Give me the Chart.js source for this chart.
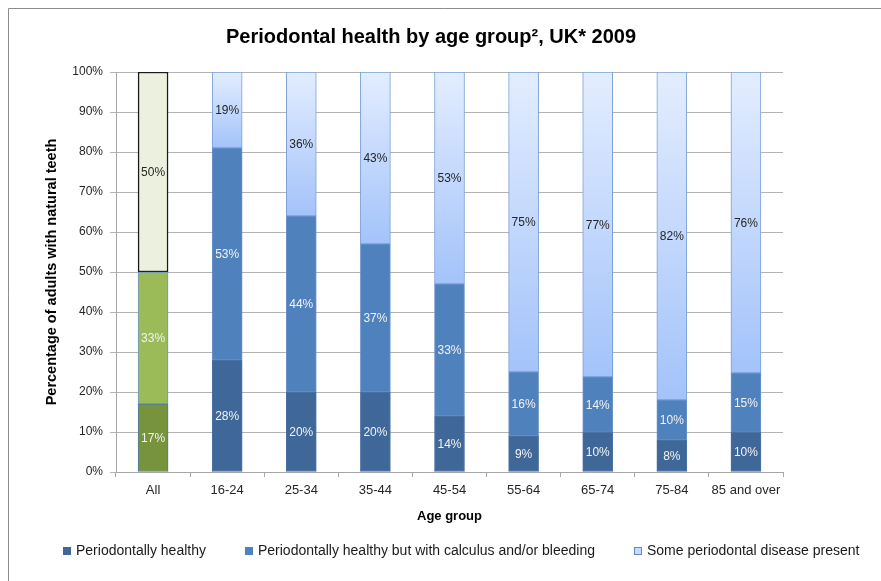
<!DOCTYPE html>
<html>
<head>
<meta charset="utf-8">
<script src="https://cdn.jsdelivr.net/npm/chart.js@4.4.0/dist/chart.umd.min.js"></script>
<style>
html,body{margin:0;padding:0;background:#fff;}
#wrap{position:relative;width:881px;height:581px;}
</style>
</head>
<body>
<div id="wrap"><canvas id="c" width="881" height="581"></canvas></div>
<script>
const categories = ['All','16-24','25-34','35-44','45-54','55-64','65-74','75-84','85 and over'];
const healthy = [17,28,20,20,14,9,10,8,10];
const calculus = [33,53,44,37,33,16,14,10,15];
const disease = [50,19,36,43,53,75,77,82,76];
const seriesNames = ['Periodontally healthy','Periodontally healthy but with calculus and/or bleeding','Some periodontal disease present'];
const yTicks = [0,10,20,30,40,50,60,70,80,90,100];

const raw = [healthy, calculus, disease];
const totals = categories.map((_, i) => raw.reduce((s, a) => s + a[i], 0));
const norm = raw.map(a => a.map((v, i) => v / totals[i] * 100));

const FONT = "'Liberation Sans', Arial, sans-serif";

function topGradient(ctx, light, dark) {
  const chart = ctx.chart;
  const ys = chart.scales.y;
  if (!chart.chartArea || !ys) return light;
  const i = ctx.dataIndex, d = ctx.datasetIndex;
  let base = 0;
  for (let k = 0; k < d; k++) base += norm[k][i];
  const top = base + norm[d][i];
  const yt = ys.getPixelForValue(top), yb = ys.getPixelForValue(base);
  const g = chart.ctx.createLinearGradient(0, yt, 0, yb);
  g.addColorStop(0, light);
  g.addColorStop(1, dark);
  return g;
}

const datasets = [
  {
    label: seriesNames[0],
    data: norm[0],
    backgroundColor: categories.map((c, i) => i === 0 ? '#77933C' : '#3F6898'),
    borderColor: categories.map((c, i) => i === 0 ? '#4F79AE' : '#4A73A6'),
    borderWidth: 1,
    legendColor: '#3F6898', legendBorder: '#3F6898',
    labelColor: '#F2F2F2'
  },
  {
    label: seriesNames[1],
    data: norm[1],
    backgroundColor: categories.map((c, i) => i === 0 ? '#9BBB59' : '#4F81BD'),
    borderColor: categories.map((c, i) => i === 0 ? '#6E95C8' : '#6A93C9'),
    borderWidth: 1,
    legendColor: '#4F81BD', legendBorder: '#4F81BD',
    labelColor: '#F2F2F2'
  },
  {
    label: seriesNames[2],
    data: norm[2],
    backgroundColor: ctx => ctx.dataIndex === 0 ? '#EBF1DE' : topGradient(ctx, '#E3EDFF', '#A3C3FA'),
    borderColor: categories.map((c, i) => i === 0 ? '#1A1A1A' : '#79A0D6'),
    borderWidth: categories.map((c, i) => i === 0 ? 1.5 : 1),
    legendColor: '#C6DAFC', legendBorder: '#5B8AC8',
    labelColor: '#262626'
  }
];
datasets.forEach(d => { d.borderSkipped = false; d.barThickness = 30; });

const framePlugin = {
  id: 'frame',
  beforeDraw(chart) {
    const c = chart.ctx;
    c.save();
    c.fillStyle = '#fff';
    c.fillRect(0, 0, chart.width, chart.height);
    c.strokeStyle = '#8C8C8C';
    c.lineWidth = 1;
    c.beginPath();
    c.moveTo(8.5, chart.height);
    c.lineTo(8.5, 8.5);
    c.lineTo(chart.width, 8.5);
    c.stroke();
    c.restore();
  }
};

const labelPlugin = {
  id: 'segLabels',
  afterDatasetsDraw(chart) {
    const c = chart.ctx;
    c.save();
    c.font = '12px ' + FONT;
    c.textAlign = 'center';
    c.textBaseline = 'middle';
    chart.data.datasets.forEach((ds, d) => {
      const meta = chart.getDatasetMeta(d);
      meta.data.forEach((el, i) => {
        const p = el.getProps(['x', 'y', 'base'], true);
        c.fillStyle = ds.labelColor;
        c.fillText(raw[d][i] + '%', p.x, (p.y + p.base) / 2 + 1);
      });
    });
    c.restore();
  }
};

const legendPlugin = {
  id: 'customLegend',
  afterDraw(chart) {
    const c = chart.ctx;
    c.save();
    c.font = '14px ' + FONT;
    c.textBaseline = 'middle';
    c.textAlign = 'left';
    let x = 63;
    const yc = 551;
    chart.data.datasets.forEach(ds => {
      c.fillStyle = ds.legendColor;
      c.fillRect(x, yc - 4, 8, 8);
      c.strokeStyle = ds.legendBorder;
      c.lineWidth = 1;
      c.strokeRect(x + 0.5, yc - 3.5, 7, 7);
      c.fillStyle = '#1A1A1A';
      c.fillText(ds.label, x + 13, yc);
      x += 13 + c.measureText(ds.label).width + 39;
    });
    c.restore();
  }
};

new Chart(document.getElementById('c'), {
  type: 'bar',
  data: { labels: categories, datasets },
  options: {
    responsive: false,
    animation: false,
    layout: { padding: { left: 0, right: 19, top: 0, bottom: 57 } },
    plugins: {
      legend: { display: false },
      tooltip: { enabled: false },
      title: {
        display: true,
        text: 'Periodontal health by age group\u00B2, UK* 2009',
        color: '#000',
        font: { family: FONT, size: 20, weight: 'bold' },
        padding: { top: 25, bottom: 23 }
      }
    },
    scales: {
      x: {
        stacked: true,
        offset: true,
        grid: { display: true, drawOnChartArea: false, drawTicks: true, tickLength: 5, offset: true, color: '#A6A6A6' },
        border: { display: true, color: '#A6A6A6' },
        ticks: { color: '#262626', font: { family: FONT, size: 13 }, padding: 6, maxRotation: 0, autoSkip: false },
        title: { display: true, text: 'Age group', color: '#000', font: { family: FONT, size: 13, weight: 'bold' }, padding: { top: 0, bottom: 0 } },
        afterFit: s => { s.height = 52; }
      },
      y: {
        stacked: true,
        min: 0, max: 100,
        afterBuildTicks: s => { s.ticks = yTicks.map(v => ({ value: v })); },
        grid: { color: '#B3B3B3', tickLength: 6, drawTicks: true },
        border: { display: true, color: '#A6A6A6' },
        ticks: { color: '#262626', font: { family: FONT, size: 12 }, padding: 7, callback: v => v + '%' },
        title: { display: true, text: 'Percentage of adults with natural teeth', color: '#000', font: { family: FONT, size: 14.5, weight: 'bold' }, padding: { top: 43, bottom: 0 } },
        afterFit: s => { s.width = 116; }
      },
      y2: {
        position: 'right',
        display: true,
        grid: { display: false },
        border: { display: false },
        ticks: { display: false },
        afterFit: s => { s.width = 79; }
      }
    }
  },
  plugins: [framePlugin, labelPlugin, legendPlugin]
});
</script>
</body>
</html>
